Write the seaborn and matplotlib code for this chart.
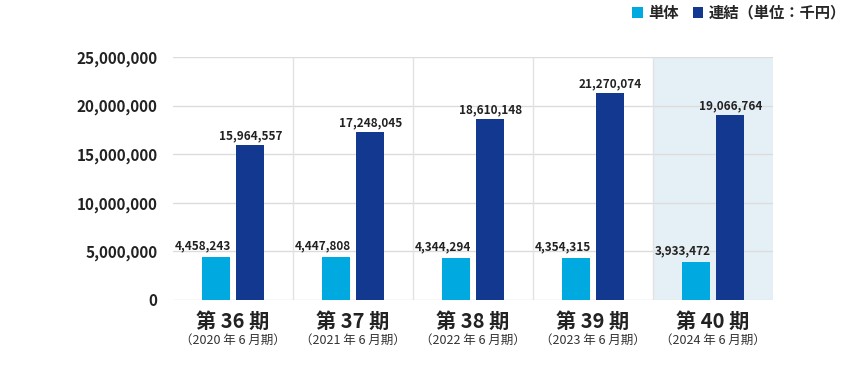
import pandas as pd
import matplotlib.pyplot as plt
import seaborn as sns

# データ
periods = ["第 36 期", "第 37 期", "第 38 期", "第 39 期", "第 40 期"]
fiscal = ["（2020 年 6 月期）", "（2021 年 6 月期）", "（2022 年 6 月期）",
          "（2023 年 6 月期）", "（2024 年 6 月期）"]
tantai = [4458243, 4447808, 4344294, 4354315, 3933472]
renketsu = [15964557, 17248045, 18610148, 21270074, 19066764]
series_names = ["単体", "連結（単位：千円）"]
colors = ["#00a9df", "#13388f"]

df = pd.concat([
    pd.DataFrame({"期": periods, "値": tantai, "区分": series_names[0]}),
    pd.DataFrame({"期": periods, "値": renketsu, "区分": series_names[1]}),
])

sns.set_style("white")
plt.rcParams["font.family"] = ["Noto Sans CJK JP", "DejaVu Sans"]

fig = plt.figure(figsize=(8.5, 3.71), dpi=100)
ax = fig.add_axes([173 / 850, 71 / 371, 600 / 850, 243 / 371])

# 最新期の背景
ax.axvspan(3.5, 4.5, color="#e5f0f6", zorder=0, lw=0)

sns.barplot(data=df, x="期", y="値", hue="区分", palette=colors, saturation=1,
            width=0.58, gap=0.2, errorbar=None, linewidth=0, ax=ax, zorder=3)

ax.set_xlim(-0.5, 4.5)
ax.set_ylim(0, 25000000)
ax.set_yticks(range(0, 25000001, 5000000))
ax.set_yticklabels([f"{v:,}" for v in range(0, 25000001, 5000000)],
                   fontsize=11, fontweight="bold", color="#222222")
ax.tick_params(axis="y", length=0, pad=11)
ax.tick_params(axis="x", length=0)
ax.set_xticklabels([])
ax.set_xlabel("")
ax.set_ylabel("")

for y in range(0, 25000001, 5000000):
    ax.axhline(y, color="#dcdcdc", lw=1, zorder=1)
for x in [0.5, 1.5, 2.5, 3.5]:
    ax.axvline(x, color="#e2e2e2", lw=1, zorder=1)
for s in ax.spines.values():
    s.set_visible(False)

# 値ラベル
for i, cont in enumerate(ax.containers):
    for p in cont.patches:
        h = p.get_height()
        if i == 0:
            ax.annotate(f"{int(round(h)):,}", (p.get_x() + p.get_width() + 0.01, h),
                        xytext=(0, 3), textcoords="offset points", ha="right", va="bottom",
                        fontsize=8.5, fontweight="bold", color="#222222")
        else:
            ax.annotate(f"{int(round(h)):,}", (p.get_x() + p.get_width() / 2, h),
                        xytext=(0, 2), textcoords="offset points", ha="center", va="bottom",
                        fontsize=8.5, fontweight="bold", color="#222222")

# 期ラベル
trans = ax.get_xaxis_transform()
for i, (per, fy) in enumerate(zip(periods, fiscal)):
    ax.text(i, -0.045, per, transform=trans, ha="center", va="top",
            fontsize=14.5, fontweight="bold", color="#222222")
    ax.text(i, -0.14, fy, transform=trans, ha="center", va="top",
            fontsize=9, color="#333333")

handles, labels = ax.get_legend_handles_labels()
ax.legend(handles, labels, loc="upper right", bbox_to_anchor=(1.006, 1.012),
          bbox_transform=fig.transFigure, ncol=2, frameon=False,
          handlelength=0.7, handleheight=0.7, handletextpad=0.35,
          columnspacing=0.9, borderpad=0.1,
          prop={"size": 11, "weight": "bold"})

fig.savefig("out.png", dpi=100)
